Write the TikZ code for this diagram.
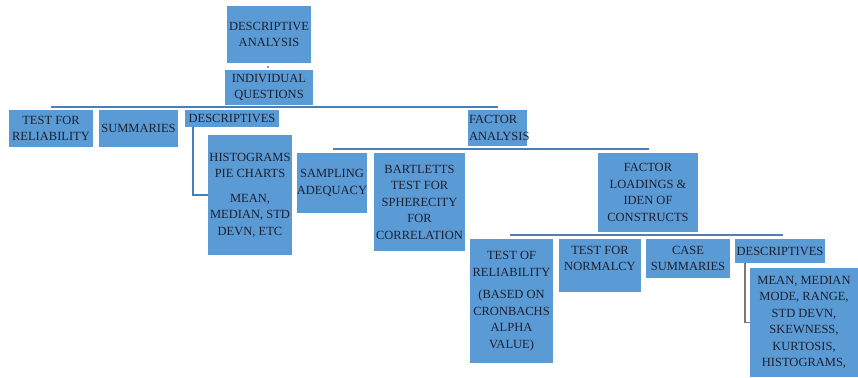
\documentclass[tikz,border=0pt]{standalone}
\usepackage{fontspec}
\setmainfont{Liberation Serif}
\definecolor{boxblue}{HTML}{5B9BD5}
\definecolor{barblue}{HTML}{4A7EBB}
\definecolor{txt}{HTML}{1C1F2E}
\definecolor{elbowgrey}{HTML}{7A7A7A}
\begin{document}
\begin{tikzpicture}[x=1pt,y=-1pt,
  box/.style={fill=boxblue, inner sep=0pt, align=center, text=txt,
    font=\fontsize{12.5}{16.5}\selectfont},
  bar/.style={draw=barblue, line width=2pt},
  elbow/.style={draw=barblue, line width=1.4pt}]
\useasboundingbox (0,0) rectangle (858,377);
% level 0
\node[box, minimum width=84, minimum height=57] (da) at (269,34.5) {DESCRIPTIVE\\ANALYSIS};
\node[circle, fill=txt, inner sep=0pt, minimum size=1.6pt] (dot) at (268,67) {};
\node[box, minimum width=88, minimum height=35] (iq) at (269,87.5) {INDIVIDUAL\\QUESTIONS};
% bar 1
\coordinate (b1L) at (51,107);
\coordinate (b1R) at (498,107);
\draw[bar] (b1L) -- (b1R);
% level 1
\node[box, minimum width=84, minimum height=37] (tr) at (51,128.5) {TEST FOR\\RELIABILITY};
\node[box, minimum width=79, minimum height=37] (su) at (138.5,128.5) {SUMMARIES};
\node[box, minimum width=94, minimum height=17] (d1) at (232,118.5) {DESCRIPTIVES};
\node[box, minimum width=84, minimum height=120] (hist) at (250,195)
  {HISTOGRAMS\\PIE CHARTS\\[8pt]MEAN,\\MEDIAN, STD\\DEVN, ETC};
\draw[elbow] ([xshift=8pt]d1.south west) |- (hist.west);
\node[box, align=left, text width=57, inner xsep=1pt, minimum height=36] (fa) at (497.5,128)
  {FACTOR\\ANALYSIS};
% bar 2
\coordinate (b2L) at (333,149);
\coordinate (b2R) at (649,149);
\draw[bar] (b2L) -- (b2R);
% level 2
\node[box, minimum width=70, minimum height=60] (sa) at (332,183) {SAMPLING\\ADEQUACY};
\node[box, minimum width=91, minimum height=98] (bt) at (419.5,202)
  {BARTLETTS\\TEST FOR\\SPHERECITY\\FOR\\CORRELATION};
\node[box, minimum width=100, minimum height=79] (fl) at (648,192.5)
  {FACTOR\\LOADINGS \&\\IDEN OF\\CONSTRUCTS};
% bar 3
\coordinate (b3L) at (510,235);
\coordinate (b3R) at (783,235);
\draw[bar, draw=barblue!80!gray] (b3L) -- (b3R);
% level 3
\node[box, minimum width=83, minimum height=124] (tor) at (511.5,301)
  {TEST OF\\RELIABILITY\\[6pt](BASED ON\\CRONBACHS\\ALPHA\\VALUE)};
\node[box, minimum width=82, minimum height=53] (tn) at (600,265.5)
  {TEST FOR\\NORMALCY\\[-2pt]\mbox{}};
\node[box, minimum width=84, minimum height=39] (cs) at (688,258.5) {CASE\\SUMMARIES};
\node[box, minimum width=90, minimum height=24] (d2) at (780,251) {DESCRIPTIVES};
\node[box, minimum width=108, minimum height=109] (mm) at (804,322.5)
  {MEAN, MEDIAN\\MODE, RANGE,\\STD DEVN,\\SKEWNESS,\\KURTOSIS,\\HISTOGRAMS,};
\draw[elbow, draw=elbowgrey] ([xshift=10pt]d2.south west) |- (mm.west);
\end{tikzpicture}
\end{document}
